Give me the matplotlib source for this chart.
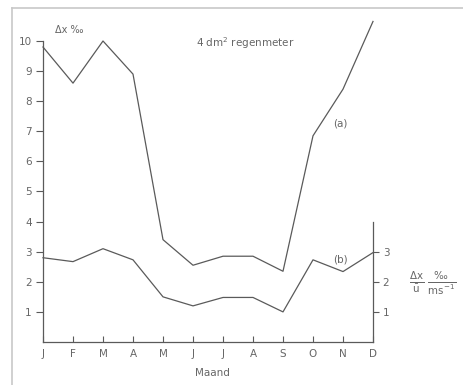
import matplotlib
matplotlib.use('Agg')
import matplotlib.pyplot as plt
from matplotlib.lines import Line2D

months = ['J', 'F', 'M', 'A', 'M', 'J', 'J', 'A', 'S', 'O', 'N', 'D']
series_a = [9.8, 8.6, 10.0, 8.9, 3.4, 2.55, 2.85, 2.85, 2.35, 6.85, 8.4, 10.65]
series_b = [2.8, 2.67, 3.1, 2.73, 1.5, 1.2, 1.48, 1.48, 1.0, 2.73, 2.34, 2.97]
left_ticks = [1, 2, 3, 4, 5, 6, 7, 8, 9, 10]
right_ticks = [1, 2, 3]

grey = '#5a5a5a'
text_grey = '#666666'
plt.rcParams['font.family'] = ['DejaVu Sans']
plt.rcParams['font.size'] = 7.5

W, H = 464, 385
fig = plt.figure(figsize=(W / 100, H / 100), dpi=100)
fig.patch.set_facecolor('white')

# paper frame (top and left edges)
fig.add_artist(Line2D([12 / W, 1], [1 - 8 / H, 1 - 8 / H], color='#c8c8c8', lw=1.2))
fig.add_artist(Line2D([12 / W, 12 / W], [0, 1 - 8 / H], color='#c8c8c8', lw=1.2))

ax = fig.add_axes([43 / W, (H - 342) / H, 330 / W, 301 / H])
x = list(range(len(months)))
ax.plot(x, series_a, color=grey, lw=0.9, clip_on=False)
ax.plot(x, series_b, color=grey, lw=0.9, clip_on=False)
ax.set_xlim(0, len(months) - 1)
ax.set_ylim(0, 10)

for s in ['top', 'right']:
    ax.spines[s].set_visible(False)
for s in ['left', 'bottom']:
    ax.spines[s].set_color(grey)
    ax.spines[s].set_linewidth(0.9)

ax.set_yticks(left_ticks)
ax.set_xticks(x)
ax.set_xticklabels(months)
ax.tick_params(axis='y', direction='out', length=5, width=0.8, color=grey,
               labelcolor=text_grey, labelsize=7.5, pad=3)
ax.tick_params(axis='x', direction='in', length=4, width=0.8, color=grey,
               labelcolor=text_grey, labelsize=7.5, pad=5)

ax2 = ax.twinx()
ax2.set_ylim(0, 10)
for s in ['top', 'left', 'bottom']:
    ax2.spines[s].set_visible(False)
ax2.spines['right'].set_bounds(0, 4)
ax2.spines['right'].set_color(grey)
ax2.spines['right'].set_linewidth(0.9)
ax2.set_yticks(right_ticks)
ax2.tick_params(axis='y', direction='out', length=4, width=0.8, color=grey,
                labelcolor=text_grey, labelsize=7.5, pad=3)

# annotations
fig.text(55 / W, 1 - 30 / H, 'Δx ‰', color=text_grey, fontsize=7, va='center')
fig.text(245 / W, 1 - 43 / H, r'4 dm$^2$ regenmeter', color=text_grey, fontsize=7.5,
         ha='center', va='center')
fig.text(340 / W, 1 - 123 / H, '(a)', color=text_grey, fontsize=7.5, ha='center', va='center')
fig.text(340 / W, 1 - 260 / H, '(b)', color=text_grey, fontsize=7.5, ha='center', va='center')
fig.text(212 / W, 1 - 373 / H, 'Maand', color=text_grey, fontsize=7.5, ha='center', va='center')
fig.text(433 / W, 1 - 283 / H, r'$\frac{\Delta\mathrm{x}}{\bar{\mathrm{u}}}\;\frac{‰}{\mathrm{ms}^{-1}}$',
         color=text_grey, fontsize=10.5, ha='center', va='center')

fig.savefig('out.png', dpi=100)
